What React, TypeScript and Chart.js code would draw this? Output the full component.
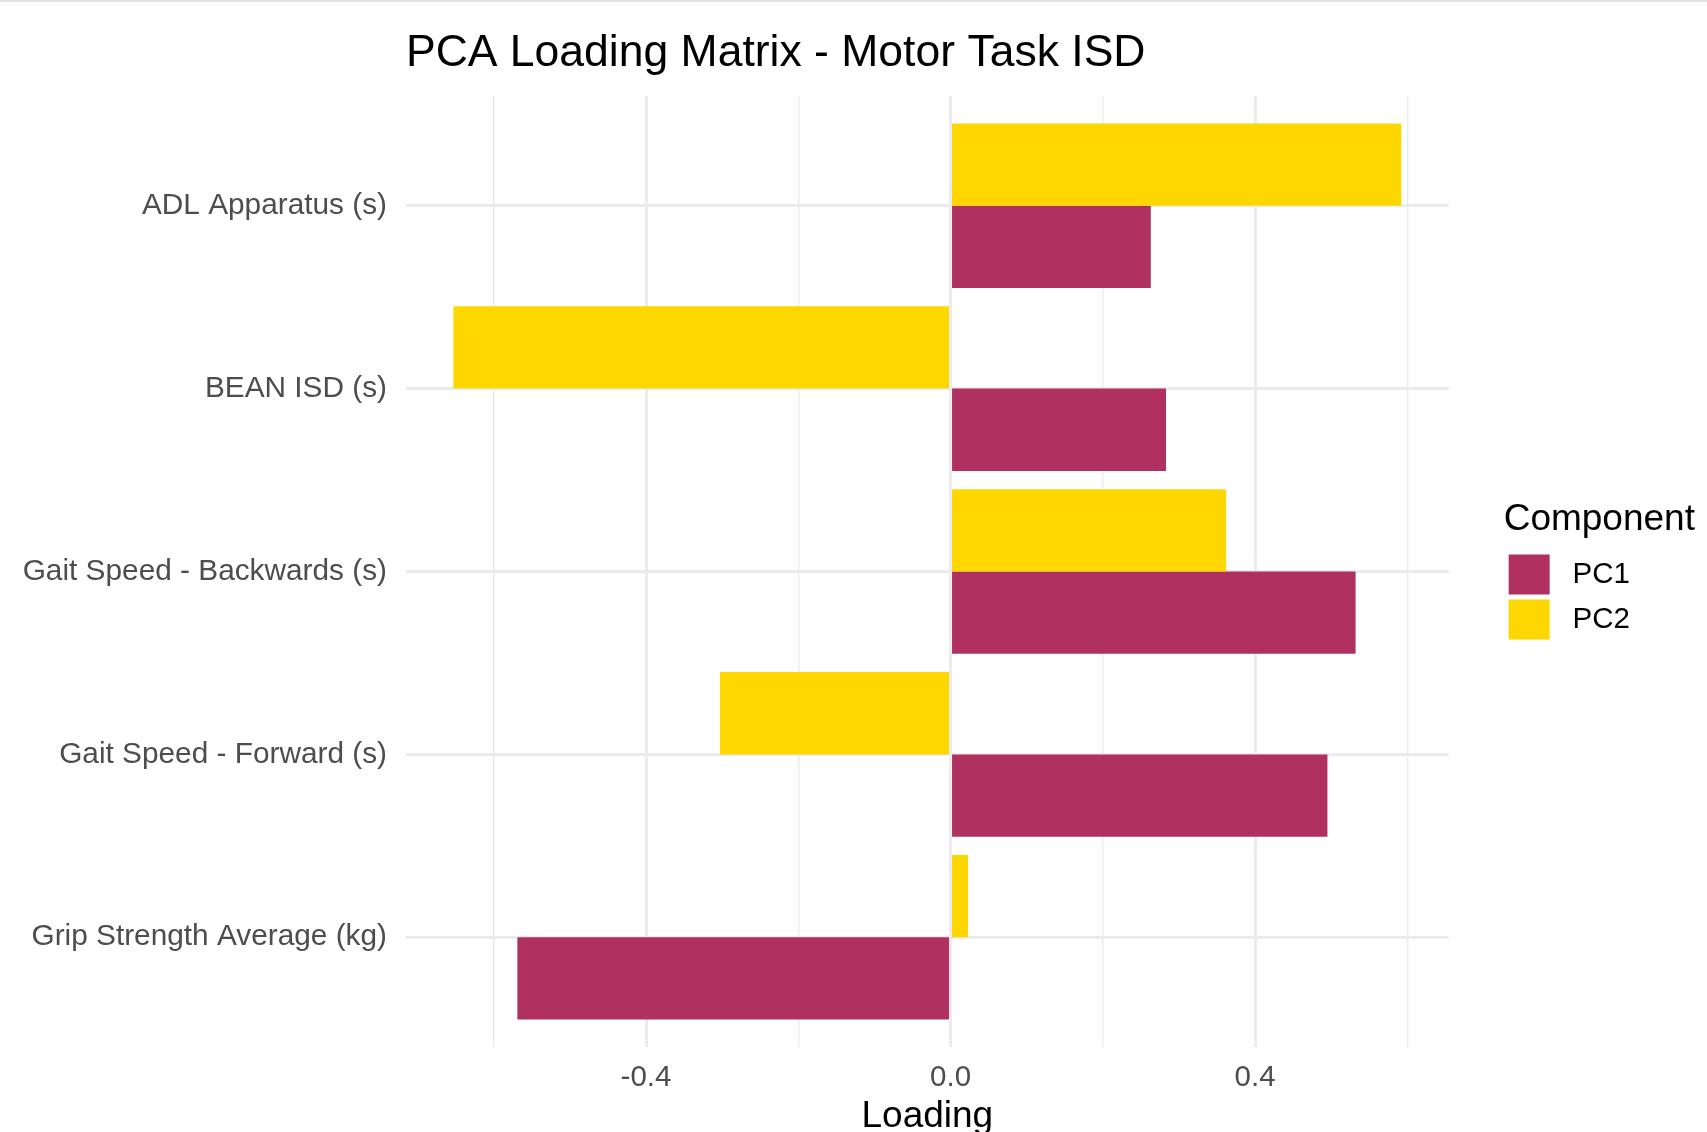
import React, { useEffect, useRef } from "react";
import { Chart, registerables } from "chart.js";

Chart.register(...registerables);

// ---- Data ----
const categories = [
  "ADL Apparatus (s)",
  "BEAN ISD (s)",
  "Gait Speed - Backwards (s)",
  "Gait Speed - Forward (s)",
  "Grip Strength Average (kg)",
];
const pc1Values = [0.263, 0.283, 0.532, 0.495, -0.569];
const pc2Values = [0.592, -0.653, 0.362, -0.303, 0.023];
const seriesNames = ["PC1", "PC2"];
const seriesColors = ["#B03060", "#FFD700"];
const xTickValues = [-0.6, -0.4, -0.2, 0, 0.2, 0.4, 0.6];
const xTickLabels = ["", "-0.4", "", "0.0", "", "0.4", ""];
const chartTitle = "PCA Loading Matrix - Motor Task ISD";
const xAxisTitle = "Loading";
const legendTitle = "Component";

const FONT = '"Liberation Sans", Arial, Helvetica, sans-serif';
const GRID = "#EBEBEB";

// widen the legend box after layout so its title is not clipped
const legendWidener = {
  id: "legendWidener",
  afterLayout(chart: any) {
    const lg = chart.legend;
    if (lg) {
      lg.right = chart.width;
      lg.width = lg.right - lg.left;
    }
  },
};

export default function App() {
  const canvasRef = useRef<HTMLCanvasElement | null>(null);

  useEffect(() => {
    document.body.style.margin = "0";
    document.documentElement.style.overflow = "hidden";
    const canvas = canvasRef.current;
    if (!canvas) return;

    const all = [...pc1Values, ...pc2Values];
    const lo = Math.min(...all);
    const hi = Math.max(...all);
    const expand = (hi - lo) * 0.05;

    const chart = new Chart(canvas, {
      type: "bar",
      data: {
        datasets: [
          {
            label: seriesNames[1],
            data: pc2Values.map((v, i) => ({ x: v, y: i })),
            backgroundColor: seriesColors[1],
            borderWidth: 0,
            categoryPercentage: 0.9,
            barPercentage: 1,
            xAxisID: "x",
            yAxisID: "y",
          },
          {
            label: seriesNames[0],
            data: pc1Values.map((v, i) => ({ x: v, y: i })),
            backgroundColor: seriesColors[0],
            borderWidth: 0,
            categoryPercentage: 0.9,
            barPercentage: 1,
            xAxisID: "x",
            yAxisID: "y",
          },
        ],
      },
      options: {
        indexAxis: "y",
        animation: false,
        responsive: false,
        devicePixelRatio: 1,
        layout: { padding: { left: 0, right: 67, top: 0, bottom: 1 } },
        scales: {
          x: {
            type: "linear",
            position: "bottom",
            offset: false,
            min: lo - expand,
            max: hi + expand,
            afterBuildTicks: (s: any) => {
              s.ticks = xTickValues.map((v) => ({ value: v }));
            },
            afterFit: (s: any) => {
              s.height = 92;
            },
            grid: {
              offset: false,
              color: GRID,
              lineWidth: (ctx: any) => (xTickLabels[ctx.index] ? 3 : 1.5),
              drawTicks: false,
            },
            border: { display: false },
            ticks: {
              autoSkip: false,
              maxRotation: 0,
              padding: 13,
              color: "#4D4D4D",
              font: { family: FONT, size: 29.5 },
              callback: (_v: any, i: number) => xTickLabels[i],
            },
            title: {
              display: true,
              text: xAxisTitle,
              color: "#000000",
              font: { family: FONT, size: 37 },
              padding: 0,
            },
          },
          y: {
            type: "linear",
            reverse: true,
            offset: false,
            min: -0.6,
            max: categories.length - 1 + 0.6,
            afterBuildTicks: (s: any) => {
              s.ticks = categories.map((_c, i) => ({ value: i }));
            },
            afterFit: (s: any) => {
              s.width = 406;
            },
            grid: { offset: false, color: GRID, lineWidth: 3, drawTicks: false },
            border: { display: false },
            ticks: {
              autoSkip: false,
              padding: 19,
              color: "#4D4D4D",
              font: { family: FONT, size: 29.8 },
              callback: (v: any) => categories[Math.round(Number(v))],
            },
          },
          gap: {
            type: "linear",
            position: "right",
            display: true,
            grid: { display: false, drawTicks: false },
            border: { display: false },
            ticks: { display: false },
            afterFit: (s: any) => {
              s.width = 55;
            },
          },
        },
        plugins: {
          title: {
            display: true,
            text: chartTitle,
            align: "start",
            fullSize: false,
            color: "#000000",
            font: { family: FONT, size: 44.5, weight: "normal" },
            padding: { top: 27.3, bottom: 15.3 },
          },
          legend: {
            position: "right",
            align: "start",
            title: {
              display: true,
              position: "start",
              text: legendTitle,
              color: "#000000",
              font: { family: FONT, size: 37 },
              padding: { top: 501, bottom: 4 },
            },
            labels: {
              boxWidth: 41,
              boxHeight: 40,
              padding: 5,
              color: "#000000",
              font: { family: FONT, size: 29.5 },
              sort: (a: any, b: any) => b.datasetIndex - a.datasetIndex,
              generateLabels: (c: any) =>
                Chart.defaults.plugins.legend.labels
                  .generateLabels(c)
                  .map((it: any) => ({ ...it, text: " " + it.text, lineWidth: 0 })),
            },
          },
          tooltip: { enabled: false },
        },
      },
      plugins: [legendWidener],
    } as any);

    return () => chart.destroy();
  }, []);

  return (
    <div style={{ position: "relative", width: 1707, height: 1132, overflow: "hidden", background: "#ffffff" }}>
      <canvas ref={canvasRef} width={1707} height={1140} style={{ display: "block", width: 1707, height: 1140 }} />
      <div style={{ position: "absolute", left: 0, top: 0, width: 1707, height: 2, background: "#e3e3e3" }} />
    </div>
  );
}
